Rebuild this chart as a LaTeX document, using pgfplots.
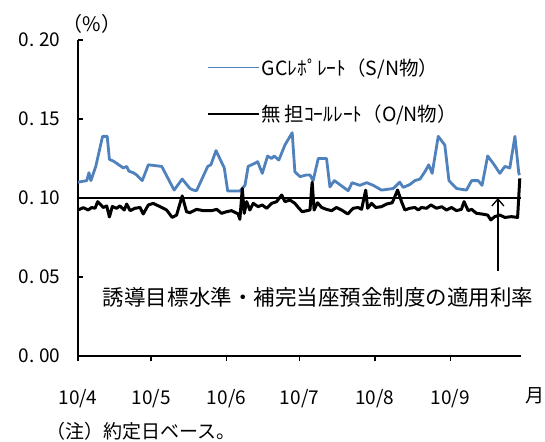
\documentclass[border=0pt]{standalone}
\usepackage{fontspec}
\setmainfont{Noto Sans CJK JP}
\usepackage{pgfplots}
\pgfplotsset{compat=1.18}
\usetikzlibrary{arrows.meta}
\definecolor{gcblue}{RGB}{79,129,189}

\begin{document}
\begin{tikzpicture}
\begin{axis}[
    scale only axis,
    width=443pt, height=316pt,
    xmin=0, xmax=182,
    ymin=0, ymax=0.2,
    axis x line=bottom, axis y line=left,
    axis line style={line width=1.2pt, -},
    xtick={0,30,61,91,122,153},
    xticklabels={10/4,10/5,10/6,10/7,10/8,10/9},
    ytick={0,0.05,0.1,0.15,0.2},
    yticklabels={0.\kern5pt00,0.\kern5pt05,0.\kern5pt10,0.\kern5pt15,0.\kern5pt20},
    x tick style={line width=1.2pt, black}, y tick style={line width=1.2pt, black},
    xtick align=outside, ytick align=inside,
    major tick length=5pt,
    tick label style={font=\fontsize{19}{21}\selectfont},
    yticklabel style={xshift=-14pt},
    xticklabel style={yshift=-25pt},
    clip=false,
    legend style={at={(axis description cs:0.291,0.949)}, anchor=north west,
                  draw=none, fill=none, inner sep=0pt, row sep=24pt,
                  font=\fontsize{19.5}{21}\selectfont, cells={anchor=west}},
    legend image code/.code={\draw[#1, line width=1.8pt] (0pt,0pt) -- (51pt,0pt);},
]
% reference rate 0.10
\addplot [black, line width=1.2pt, forget plot] coordinates {(0,0.1) (182,0.1)};

\addplot [gcblue, line width=2.8pt, line join=round] coordinates {
(0,0.110) (3.6,0.111) (4.5,0.116) (5.3,0.111) (7.3,0.120) (10.1,0.139) (12.0,0.139)
(12.9,0.1245) (14.9,0.123) (18.6,0.119) (20.0,0.120) (20.9,0.117) (22.7,0.116)
(24.1,0.1146) (26.4,0.111) (28.9,0.121) (34.4,0.120) (39.5,0.105) (42.8,0.112)
(46.0,0.106) (47.4,0.105) (48.7,0.1046) (53.3,0.120) (54.6,0.121) (56.7,0.130)
(60.1,0.119) (61.5,0.1044) (66.5,0.1044) (68.6,0.108) (69.9,0.120) (72.7,0.122)
(73.8,0.123) (75.7,0.1156) (77.9,0.1266) (79.5,0.125) (80.6,0.1266) (82.5,0.124)
(85.0,0.1335) (88.0,0.1413) (89.1,0.1166) (91.2,0.1135) (93.9,0.1146) (95.3,0.1146)
(96.6,0.111) (98.7,0.125) (102.1,0.125) (103.5,0.107) (105.3,0.111) (111.0,0.1046)
(112.6,0.1097) (115.8,0.108) (118.6,0.1097) (121.3,0.108) (124.7,0.105) (129.5,0.106)
(132.2,0.110) (133.6,0.1067) (136.3,0.1085) (138.4,0.111) (140.5,0.112) (142.5,0.1166)
(144.1,0.121) (145.5,0.1156) (148.0,0.139) (150.7,0.1335) (152.4,0.111) (155.5,0.106)
(159.6,0.105) (161.7,0.111) (164.4,0.111) (166.0,0.108) (168.3,0.1266) (171.0,0.121)
(173.3,0.1156) (175.4,0.120) (177.4,0.119) (179.5,0.139) (181.1,0.1156) (181.5,0.1146)
};
\addlegendentry{GCﾚﾎﾟﾚｰﾄ（S/N物）}

\addplot [black, line width=3pt, line join=round] coordinates {
(0,0.0924) (2.2,0.0939) (4.2,0.0924) (5.6,0.094) (7.0,0.0935) (8.1,0.0977) (10.4,0.094)
(11.8,0.095) (12.9,0.088) (14.1,0.0946) (15.9,0.0935) (17.2,0.095) (19.0,0.0924)
(20.0,0.0962) (21.4,0.092) (23.4,0.0935) (25.5,0.094) (26.8,0.0899) (28.9,0.0956)
(30.9,0.0966) (34.4,0.094) (36.4,0.0924) (38.7,0.0877) (40.5,0.0892) (42.8,0.1013)
(44.6,0.0913) (46.0,0.0907) (46.7,0.0913) (48.7,0.0928) (51.5,0.092) (54.9,0.092)
(57.0,0.0928) (59.0,0.0903) (61.0,0.0913) (63.1,0.092) (65.8,0.0899) (66.5,0.0865)
(67.5,0.106) (68.3,0.0903) (69.3,0.0977) (70.6,0.0924) (72.0,0.0966) (74.0,0.0945)
(75.7,0.0956) (77.5,0.0935) (79.5,0.0966) (81.6,0.0977) (83.7,0.1019) (85.0,0.0977)
(87.1,0.0987) (89.1,0.0966) (90.5,0.094) (92.1,0.0913) (95.3,0.0924) (96.2,0.110)
(97.0,0.0924) (98.4,0.097) (100.1,0.094) (102.1,0.0928) (104.2,0.092) (106.2,0.094)
(108.3,0.0924) (110.8,0.0899) (113.1,0.0935) (115.1,0.094) (116.5,0.0928) (118.2,0.105)
(119.0,0.0935) (120.6,0.0966) (122.3,0.094) (124.7,0.0945) (126.8,0.0962) (129.1,0.097)
(131.3,0.105) (132.9,0.0977) (134.3,0.0924) (136.3,0.0935) (138.4,0.094) (139.8,0.0924)
(141.1,0.094) (143.2,0.0935) (145.0,0.0956) (147.3,0.0935) (149.4,0.0945) (151.4,0.0924)
(153.4,0.094) (155.5,0.092) (157.5,0.0928) (158.6,0.0977) (160.3,0.092) (161.7,0.0928)
(163.7,0.0903) (165.8,0.0899) (168.3,0.0892) (169.6,0.0861) (171.2,0.0882) (173.3,0.0892)
(175.4,0.0877) (178.1,0.0882) (180.6,0.0877) (181.5,0.1124)
};
\addlegendentry{無\,担ｺｰﾙﾚｰﾄ（O/N物）}

\draw[line width=1.3pt, -{Straight Barb[length=7pt, width=12pt]}]
    (axis cs:172.5,0.054) -- (axis cs:172.5,0.1);
\node[font=\fontsize{21.5}{24}\selectfont] at (axis cs:98.6,0.0373)
    {誘導目標水準・補完当座預金制度の適用利率};
\node[font=\fontsize{20}{22}\selectfont] at (axis description cs:0.032,1.05) {（\%）};
\node[font=\fontsize{19}{21}\selectfont] at (axis description cs:1.032,-0.125) {月};
\node[font=\fontsize{19}{21}\selectfont, anchor=west] at (axis description cs:-0.08,-0.237)
    {（注）約定日ベース。};
\end{axis}
\pgfresetboundingbox
\path[use as bounding box] (-78pt,-85pt) rectangle (467pt,356pt);
\end{tikzpicture}
\end{document}
